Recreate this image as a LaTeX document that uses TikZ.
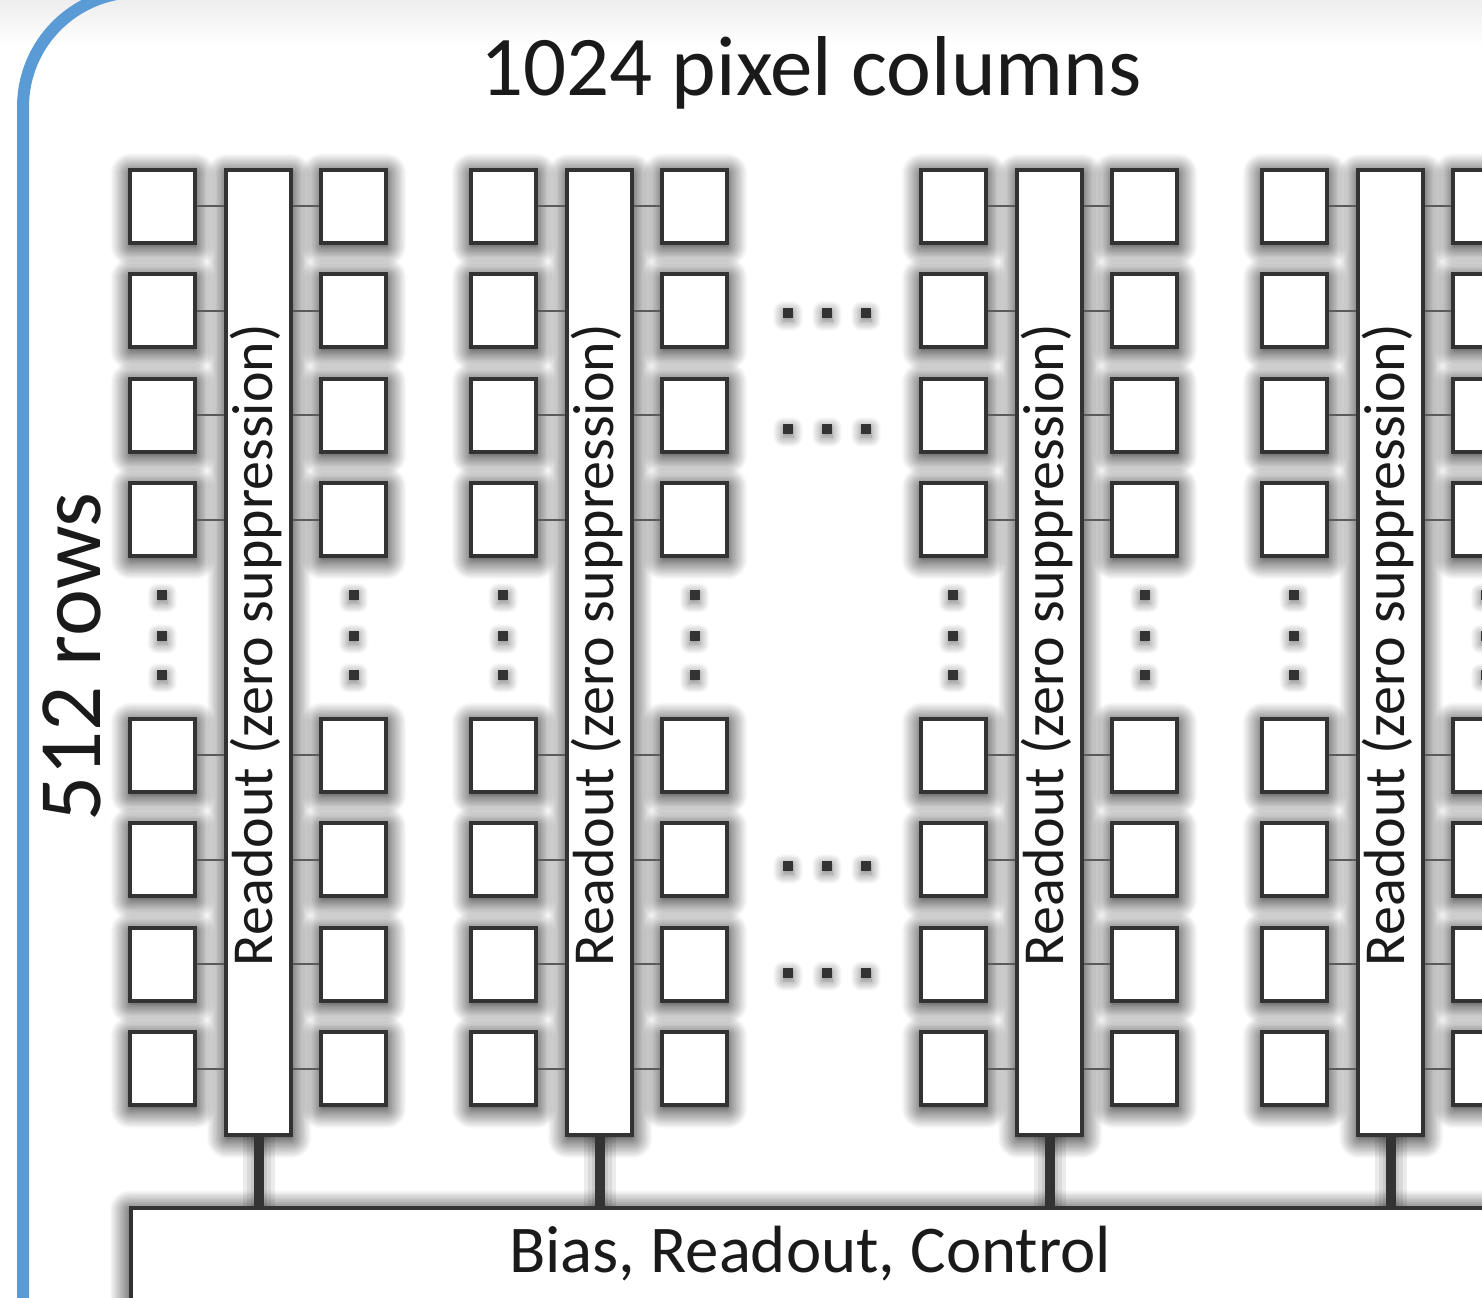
\documentclass[tikz,border=0pt]{standalone}
\usepackage{fontspec}
\setmainfont{Carlito}
\usetikzlibrary{shadows.blur}
\definecolor{frameblue}{HTML}{5B9BD5}
\definecolor{ink}{HTML}{333333}
\definecolor{txt}{HTML}{1A1A1A}
\definecolor{wiregray}{HTML}{5A5A5A}
\begin{document}
\begin{tikzpicture}[x=0.5pt,y=-0.5pt,
  glow/.style={blur shadow={shadow blur radius=10pt, shadow xshift=0.3pt, shadow yshift=-1.8pt, shadow opacity=100, shadow blur steps=16}},
  dotglow/.style={blur shadow={shadow blur radius=5pt, shadow xshift=0pt, shadow yshift=-1.5pt, shadow opacity=55, shadow blur steps=10}},
  pixsize/.style={minimum width=32.5pt, minimum height=36.5pt, inner sep=0pt},
  barsize/.style={minimum width=32.5pt, minimum height=482.5pt, inner sep=0pt},
  botsize/.style={minimum width=700pt, minimum height=80pt, inner sep=0pt, anchor=north west},
  shadowonly/.style={draw=none, fill=white, glow},
  boxline/.style={draw=ink, line width=2pt, fill=white},
  wire/.style={draw=wiregray, line width=1pt},
  stem/.style={draw=ink, line width=5pt},
  stemglow/.style={draw=black, opacity=0.08},
  dotmark/.style={fill=ink, minimum size=5pt, inner sep=0pt, dotglow},
  bigtext/.style={text=txt, inner sep=0pt, font=\fontsize{42.5pt}{50pt}\selectfont},
  rowtext/.style={text=txt, inner sep=0pt, font=\fontsize{44.5pt}{52pt}\selectfont},
  bottext/.style={text=txt, inner sep=0pt, font=\fontsize{33.4pt}{40pt}\selectfont},
  bartext/.style={text=txt, inner sep=0pt, font=\fontsize{29pt}{34pt}\selectfont},
  border/.style={draw=frameblue, line width=6pt, rounded corners=57.5pt}
]
\useasboundingbox (0,0) rectangle (1482,1297);
\clip (0,0) rectangle (1482,1297);
\shade[top color=black!7, bottom color=white] (0,0) rectangle (1482,45);

% pass 1: shadows
\node[shadowonly, botsize] (botsh) at (128.5,1206) {};
\foreach \g/\dx in {1/0,2/341,3/791,4/1132} {
  \node[shadowonly, barsize] (barsh\g) at (258.5+\dx,652.5) {};
  \foreach \w in {8pt,12pt,16pt} {
    \draw[stemglow, line width=\w] (barsh\g.south) -- (barsh\g.south |- botsh.north);
  }
  \foreach \r/\yy in {1/206,2/310.5,3/415,4/519.5,5/755,6/859.5,7/964,8/1068.5} {
    \node[shadowonly, pixsize] (Lsh\g-\r) at (162.3+\dx,\yy) {};
    \node[shadowonly, pixsize] (Rsh\g-\r) at (353.5+\dx,\yy) {};
  }
}

% dots
\foreach \i/\xx in {1/788,2/827,3/866} {
  \foreach \j/\yy in {1/313,2/429,3/866,4/973} {
    \node[dotmark] (hd\i-\j) at (\xx,\yy) {};
  }
}
\foreach \c/\xx in {1/162.3,2/353.5,3/503.3,4/694.5,5/953.3,6/1144.5,7/1294.3,8/1485.5} {
  \foreach \k/\yy in {1/595,2/636,3/675} {
    \node[dotmark] (vd\c-\k) at (\xx,\yy) {};
  }
}

% pass 2: boxes
\node[boxline, botsize] (bottom) at (128.5,1206) {};
\foreach \g/\dx in {1/0,2/341,3/791,4/1132} {
  \node[boxline, barsize] (bar\g) at (258.5+\dx,652.5) {};
  \draw[stem] (bar\g.south) -- (bar\g.south |- bottom.north);
  \foreach \r/\yy in {1/206,2/310.5,3/415,4/519.5,5/755,6/859.5,7/964,8/1068.5} {
    \node[boxline, pixsize] (L\g-\r) at (162.3+\dx,\yy) {};
    \node[boxline, pixsize] (R\g-\r) at (353.5+\dx,\yy) {};
    \draw[wire] (L\g-\r.east) -- (L\g-\r.east -| bar\g.west);
    \draw[wire] (R\g-\r.west) -- (R\g-\r.west -| bar\g.east);
  }
  \node[bartext, rotate=90, anchor=base] (lab\g) at (272+\dx,645) {Readout (zero suppression)};
}

% texts
\node[bigtext, anchor=base] (title) at (811,95) {1024 pixel columns};
\node[rowtext, rotate=90, anchor=base] (rows) at (100,657) {512 rows};
\node[bottext, anchor=base] (brc) at (810,1272) {Bias, Readout, Control};

% frame
\draw[border] (23,1340) -- (23,-8) -- (1540,-8);
\end{tikzpicture}
\end{document}
